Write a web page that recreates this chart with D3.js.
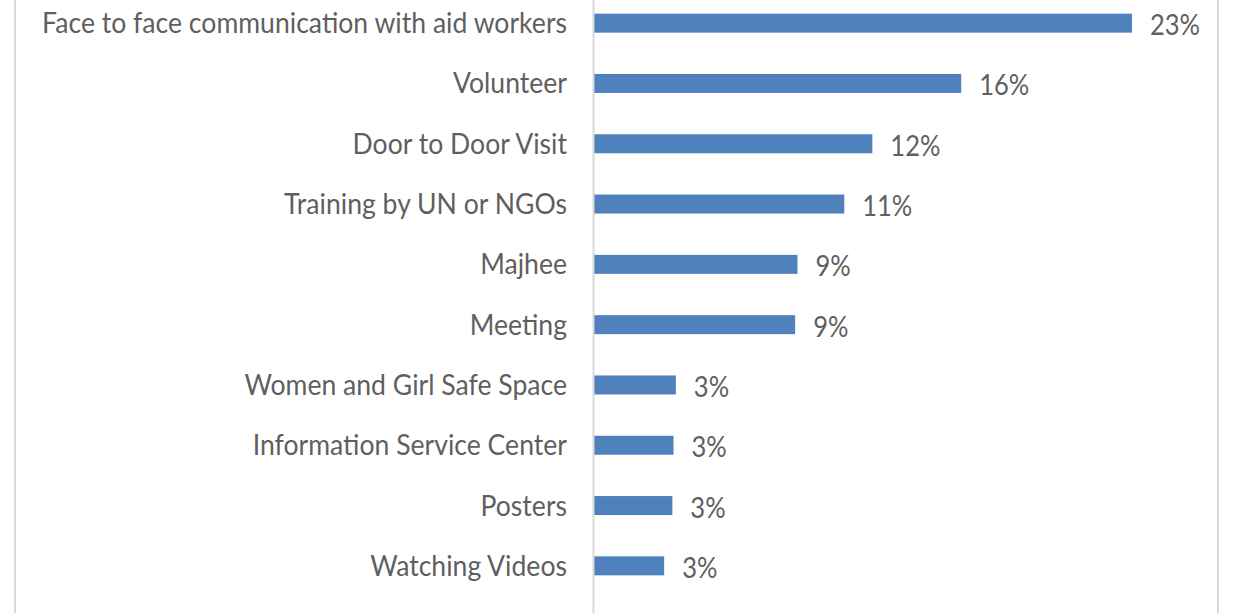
<!DOCTYPE html>
<html>
<head>
<meta charset="utf-8">
<script src="https://cdn.jsdelivr.net/npm/d3@7"></script>
<style>
  body { margin: 0; background: #ffffff; }
  text { font-family: Lato, 'Open Sans', sans-serif; fill: #5f5f5f; }
</style>
</head>
<body>
<svg id="chart" width="1246" height="613"></svg>
<script>
// categories, top to bottom
const categories = [
  'Face to face communication with aid workers',
  'Volunteer',
  'Door to Door Visit',
  'Training by UN or NGOs',
  'Majhee',
  'Meeting',
  'Women and Girl Safe Space',
  'Information Service Center',
  'Posters',
  'Watching Videos',
];
// share of respondents (%)
const values = [23, 15.7, 11.9, 10.7, 8.7, 8.6, 3.5, 3.4, 3.35, 3.0];
// data labels as printed on the chart
const valueLabels = ['23%', '16%', '12%', '11%', '9%', '9%', '3%', '3%', '3%', '3%'];

const width = 1246;
const height = 613;
const axisX = 594;
const xMax = 25;

const svg = d3.select('#chart');

const x = d3.scaleLinear().domain([0, xMax]).range([axisX, axisX + xMax * 23.39]);
const y = d3.scaleBand()
  .domain(categories)
  .range([-7, 596])
  .paddingInner(0.685)
  .paddingOuter(0.3425);

// chart area border (left / right edges)
svg.append('g')
  .selectAll('line')
  .data([15, 1218])
  .join('line')
  .attr('x1', (d) => d).attr('x2', (d) => d)
  .attr('y1', 0).attr('y2', height)
  .attr('stroke', '#d9d9d9')
  .attr('stroke-width', 2);

// bars
svg.append('g')
  .selectAll('rect')
  .data(values)
  .join('rect')
  .attr('x', x(0))
  .attr('y', (d, i) => y(categories[i]))
  .attr('width', (d) => x(d) - x(0))
  .attr('height', y.bandwidth())
  .attr('fill', '#4f81bd');

// category axis line
svg.append('line')
  .attr('x1', axisX - 0.5).attr('x2', axisX - 0.5)
  .attr('y1', 0).attr('y2', height)
  .attr('stroke', '#d9d9d9')
  .attr('stroke-width', 2);

// category labels
const labelX = axisX - 27;
svg.append('g')
  .selectAll('text')
  .data(categories)
  .join('text')
  .attr('text-anchor', 'end')
  .attr('transform', (d) => `translate(${labelX},${y(d) + y.bandwidth() / 2 + 10}) scale(0.95,1)`)
  .style('font-size', '28px')
  .text((d) => d);

// value labels
svg.append('g')
  .selectAll('text')
  .data(values)
  .join('text')
  .attr('transform', (d, i) => `translate(${x(d) + 18},${y(categories[i]) + y.bandwidth() / 2 + 12}) scale(0.88,1)`)
  .style('font-size', '29px')
  .text((d, i) => valueLabels[i]);
</script>
</body>
</html>
